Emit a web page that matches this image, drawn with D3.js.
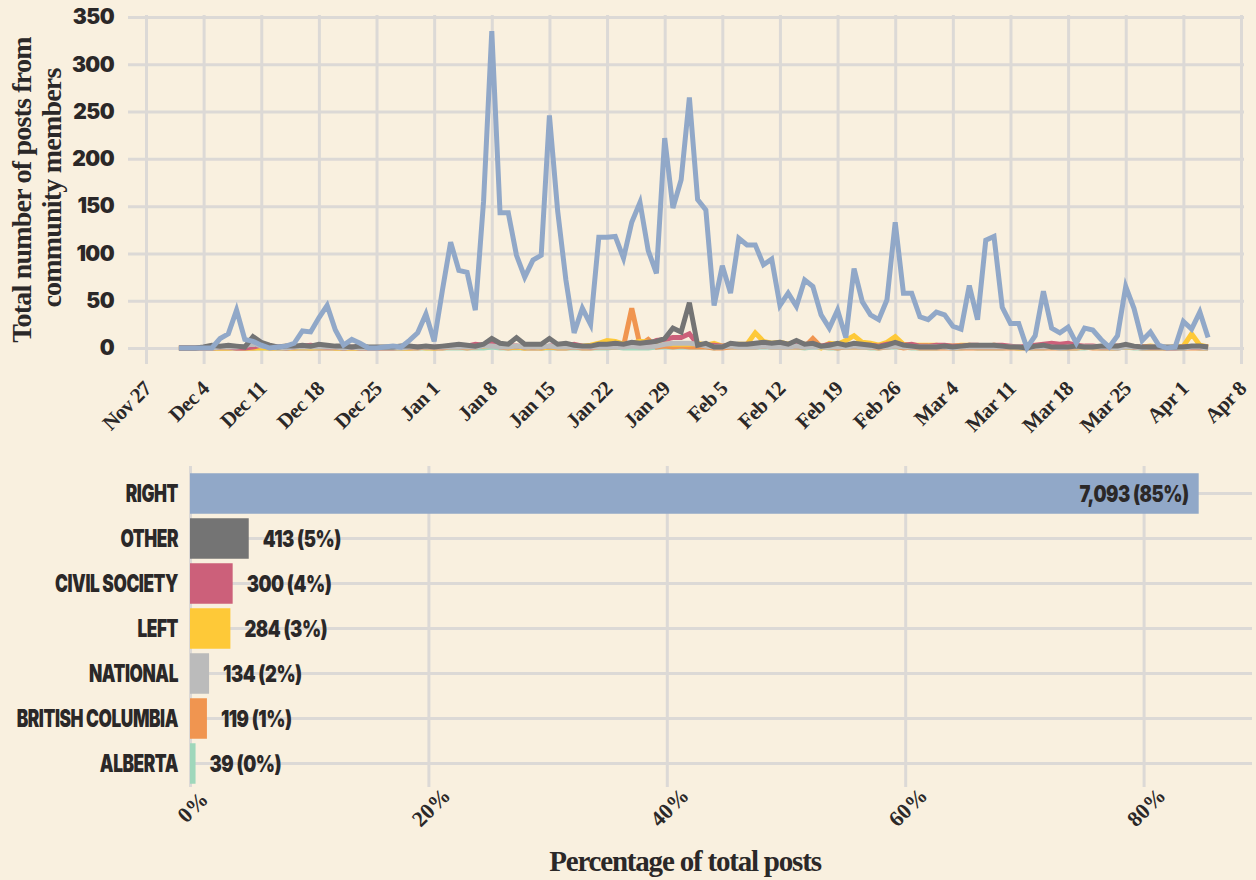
<!DOCTYPE html>
<html>
<head>
<meta charset="utf-8">
<script src="https://cdn.jsdelivr.net/npm/d3@7"></script>
<style>
  body { margin: 0; background: #f9f0df; }
  svg { display: block; }
</style>
</head>
<body>
<div id="chart"></div>
<script>
// daily counts, Dec 1 2023 to Apr 4 2024
const right = [0,0,0,0,0,10,15,40,9,7,3,0,1,2,5,18,17,32,45,19,3,9,5,0,0,1,2,1,8,16,36,
  7,61,112,82,80,40,155,335,143,143,98,75,93,98,246,145,72,16,42,25,117,117,118,95,133,154,103,79,222,148,178,
  265,157,146,45,87,58,116,109,109,88,94,45,58,44,72,65,35,21,40,11,84,49,35,30,51,133,58,58,33,
  30,38,35,23,20,66,30,114,118,43,26,26,0,13,60,21,16,22,5,21,19,9,1,13,65,42,8,17,3,0,1,
  28,20,38,11];
const other = [0,0,0,1,3,2,3,2,1,12,6,3,1,2,2,3,2,4,3,2,2,1,2,1,1,1,1,2,2,1,2,
  1,2,3,4,3,2,4,10,5,4,11,4,4,4,10,4,5,3,2,2,4,4,5,4,6,5,6,7,10,21,17,
  48,3,5,1,1,5,4,4,5,6,5,6,4,8,4,5,2,3,5,3,5,4,3,1,3,6,3,2,1,
  1,1,2,1,2,3,3,3,3,2,1,1,0,2,3,1,1,1,2,1,1,2,2,2,4,2,1,1,1,1,1,
  1,2,2,1];
const civil = [0,0,0,0,0,1,1,0,0,1,3,2,1,0,1,2,3,2,1,1,0,1,0,0,0,0,0,1,1,1,1,
  1,1,2,3,2,4,3,5,3,2,2,1,2,1,2,3,2,4,2,1,2,3,4,3,5,3,4,8,9,11,11,
  15,4,3,3,2,3,3,4,4,5,4,4,3,5,2,3,2,4,3,2,4,3,3,2,4,5,3,4,2,
  2,3,3,2,2,3,3,2,3,3,2,1,2,3,4,5,4,5,3,2,2,1,1,2,2,1,1,1,1,0,0,
  1,1,1,1];
const left = [0,0,0,0,0,0,0,1,0,0,0,0,0,0,0,1,0,1,2,0,0,0,0,0,0,0,0,0,0,1,0,
  0,1,2,2,1,3,2,3,2,1,1,0,2,0,1,1,1,2,2,3,5,8,7,4,5,7,6,5,5,4,4,
  4,5,3,5,2,3,4,4,16,7,5,6,4,6,4,3,0,5,4,8,13,6,5,3,6,12,4,3,3,
  3,3,2,2,3,3,2,2,3,2,1,0,1,2,2,1,1,2,1,1,1,1,1,1,1,1,1,2,1,0,1,
  2,15,3,1];
const national = [0,0,0,0,0,1,1,1,2,5,2,1,0,0,1,1,1,1,1,1,0,1,0,0,0,0,0,0,1,1,1,
  1,1,1,1,1,1,2,2,1,1,2,1,1,1,2,1,1,1,1,1,1,1,1,1,2,1,1,2,4,5,5,
  5,4,2,1,1,2,1,1,1,2,1,1,1,2,1,1,1,1,1,1,2,1,1,1,1,2,1,1,1,
  1,1,1,0,1,1,1,1,1,1,1,1,0,1,1,1,0,1,1,1,1,1,1,0,1,1,0,1,1,0,0,
  0,1,1,0];
const bc = [0,0,0,0,0,0,0,0,0,0,1,0,0,0,0,0,0,0,0,0,0,0,0,0,0,0,0,0,0,0,1,
  0,0,1,1,0,1,2,5,1,0,1,0,0,0,1,0,0,1,0,0,1,1,1,2,42,3,9,1,2,1,2,
  1,1,1,0,0,1,1,1,1,2,1,1,1,1,1,10,1,1,0,1,1,1,1,0,1,2,0,1,0,
  0,0,0,0,0,0,0,0,0,0,0,0,0,0,0,0,0,0,0,1,0,0,0,0,1,1,0,0,0,0,0,
  0,0,0,0];
const alberta = [0,0,0,0,0,0,0,0,0,0,0,0,0,0,0,0,0,0,0,0,0,0,0,0,0,0,0,0,0,0,0,
  0,0,0,0,0,0,0,1,0,0,0,0,0,0,0,0,0,0,0,0,0,0,1,0,0,0,0,1,1,1,1,
  1,1,1,0,2,1,1,1,1,1,1,1,1,1,0,1,1,0,0,1,1,1,0,0,1,1,1,0,0,
  0,0,1,0,0,1,0,0,0,0,1,0,0,0,0,1,0,0,0,0,1,0,0,0,1,0,0,0,0,0,0,
  0,1,0,0];

const categories = ["RIGHT", "OTHER", "CIVIL SOCIETY", "LEFT", "NATIONAL", "BRITISH COLUMBIA", "ALBERTA"];
const totals = [7093, 413, 300, 284, 134, 119, 39];
const colors = ["#91a8c8", "#747474", "#cc607a", "#fec938", "#bbbbbb", "#f09550", "#9fd7bb"];
const yTicks = [0, 50, 100, 150, 200, 250, 300, 350];
const pctTicks = [0, 0.2, 0.4, 0.6, 0.8];

const W = 1256, H = 880;
const grid = "#dcd9d6";
const ink = "#2b2828";
const serif = "'Liberation Serif', 'DejaVu Serif', serif";

const svg = d3.select("#chart").append("svg")
  .attr("width", W).attr("height", H)
  .style("background", "#f9f0df");

// ---- top: line chart ----
const days = d3.timeDay.range(new Date(2023, 11, 1), new Date(2024, 3, 5));
const x = d3.scaleTime()
  .domain([new Date(2023, 10, 27), new Date(2024, 3, 8)])
  .range([146, 1241]);
const y = d3.scaleLinear().domain([0, 350]).range([348, 17]);

// horizontal grid + y labels
const yAxis = svg.append("g")
  .attr("transform", "translate(128,0)")
  .call(d3.axisLeft(y).tickValues(yTicks).tickSize(-1116).tickPadding(14));
yAxis.select(".domain").remove();
yAxis.selectAll("line").attr("stroke", grid).attr("stroke-width", 3);
yAxis.selectAll("text")
  .attr("fill", ink)
  .style("font", "900 21px Inter, sans-serif")
  .style("letter-spacing", "-0.6px");

// vertical grid + date labels
const weeks = d3.timeMonday.range(new Date(2023, 10, 27), new Date(2024, 3, 9));
const xAxis = svg.append("g")
  .attr("transform", "translate(0,364)")
  .call(d3.axisBottom(x).tickValues(weeks).tickSize(-349).tickFormat(d3.timeFormat("%b %-d")));
xAxis.select(".domain").remove();
xAxis.selectAll("line").attr("stroke", grid).attr("stroke-width", 3);
xAxis.selectAll("text")
  .attr("fill", ink)
  .attr("text-anchor", "end")
  .attr("y", 0).attr("dy", 0)
  .attr("transform", "translate(6,26) rotate(-45)")
  .style("font", `bold 21px ${serif}`)
  .style("letter-spacing", "-0.6px");

const series = [
  { vals: alberta, c: colors[6] },
  { vals: bc, c: colors[5] },
  { vals: left, c: colors[3] },
  { vals: civil, c: colors[2] },
  { vals: national, c: colors[4] },
  { vals: other, c: colors[1] },
  { vals: right, c: colors[0] }
];
const line = d3.line()
  .x((d, i) => x(days[i]))
  .y(d => y(d));
svg.append("g").selectAll("path")
  .data(series)
  .join("path")
    .attr("d", s => line(s.vals))
    .attr("fill", "none")
    .attr("stroke", s => s.c)
    .attr("stroke-width", 5)
    .attr("stroke-linejoin", "miter");

// y title
const yt = svg.append("g").attr("fill", ink)
  .style("font", `bold 28px ${serif}`)
  .style("letter-spacing", "-0.8px");
yt.append("text").attr("text-anchor", "middle")
  .attr("transform", "translate(31,190) rotate(-90)")
  .text("Total number of posts from");
yt.append("text").attr("text-anchor", "middle")
  .attr("transform", "translate(61,188) rotate(-90)")
  .text("community members");

// ---- bottom: bar chart ----
const total = d3.sum(totals);
const bars = categories.map((c, i) => ({ cat: c, n: totals[i], p: totals[i] / total, color: colors[i] }));

const xb = d3.scaleLinear().domain([0, 1]).range([190, 1382]);
const yb = d3.scaleBand().domain(categories).range([471, 786])
  .paddingInner(0.1).paddingOuter(0.05);
const mid = d => yb(d.cat) + yb.bandwidth() / 2;

const xbAxis = svg.append("g")
  .attr("transform", "translate(0,787)")
  .call(d3.axisBottom(xb).tickValues(pctTicks).tickSize(-321).tickFormat(d3.format(".0%")));
xbAxis.select(".domain").remove();
xbAxis.selectAll("line").attr("stroke", grid).attr("stroke-width", 3);
xbAxis.selectAll("text")
  .attr("fill", ink)
  .attr("text-anchor", "middle")
  .attr("y", 0).attr("dy", "0.35em")
  .attr("transform", "translate(2,20) rotate(-45)")
  .style("font", `bold 22px ${serif}`);

svg.append("g").selectAll("line")
  .data(bars)
  .join("line")
    .attr("x1", 190).attr("x2", 1252)
    .attr("y1", mid).attr("y2", mid)
    .attr("stroke", grid).attr("stroke-width", 3);

svg.append("g").selectAll("rect")
  .data(bars)
  .join("rect")
    .attr("x", xb(0))
    .attr("y", d => yb(d.cat))
    .attr("width", d => xb(d.p) - xb(0))
    .attr("height", yb.bandwidth())
    .attr("fill", d => d.color);

// heavy condensed labels: squeeze a black sans horizontally
const squeeze = 0.72;
svg.append("g").selectAll("text")
  .data(bars)
  .join("text")
    .attr("transform", d => `translate(178,${mid(d)}) scale(${squeeze},1)`)
    .attr("dy", "0.36em")
    .attr("text-anchor", "end")
    .attr("fill", ink)
    .style("font", "900 24px Inter, sans-serif")
    .style("letter-spacing", "-0.6px")
    .text(d => d.cat);

const fmt = d3.format(",");
svg.append("g").selectAll("text")
  .data(bars)
  .join("text")
    .attr("transform", (d, i) => `translate(${i === 0 ? xb(d.p) - 10 : xb(d.p) + 14},${mid(d)}) scale(0.8,1)`)
    .attr("dy", "0.36em")
    .attr("text-anchor", (d, i) => i === 0 ? "end" : "start")
    .attr("fill", ink)
    .style("font", "900 23px Inter, sans-serif")
    .style("letter-spacing", "-0.6px")
    .text(d => `${fmt(d.n)} (${Math.round(d.p * 100)}%)`);

svg.append("text")
  .attr("x", 685).attr("y", 871)
  .attr("text-anchor", "middle")
  .attr("fill", ink)
  .style("font", `bold 29px ${serif}`)
  .style("letter-spacing", "-1.2px")
  .text("Percentage of total posts");
</script>
</body>
</html>
